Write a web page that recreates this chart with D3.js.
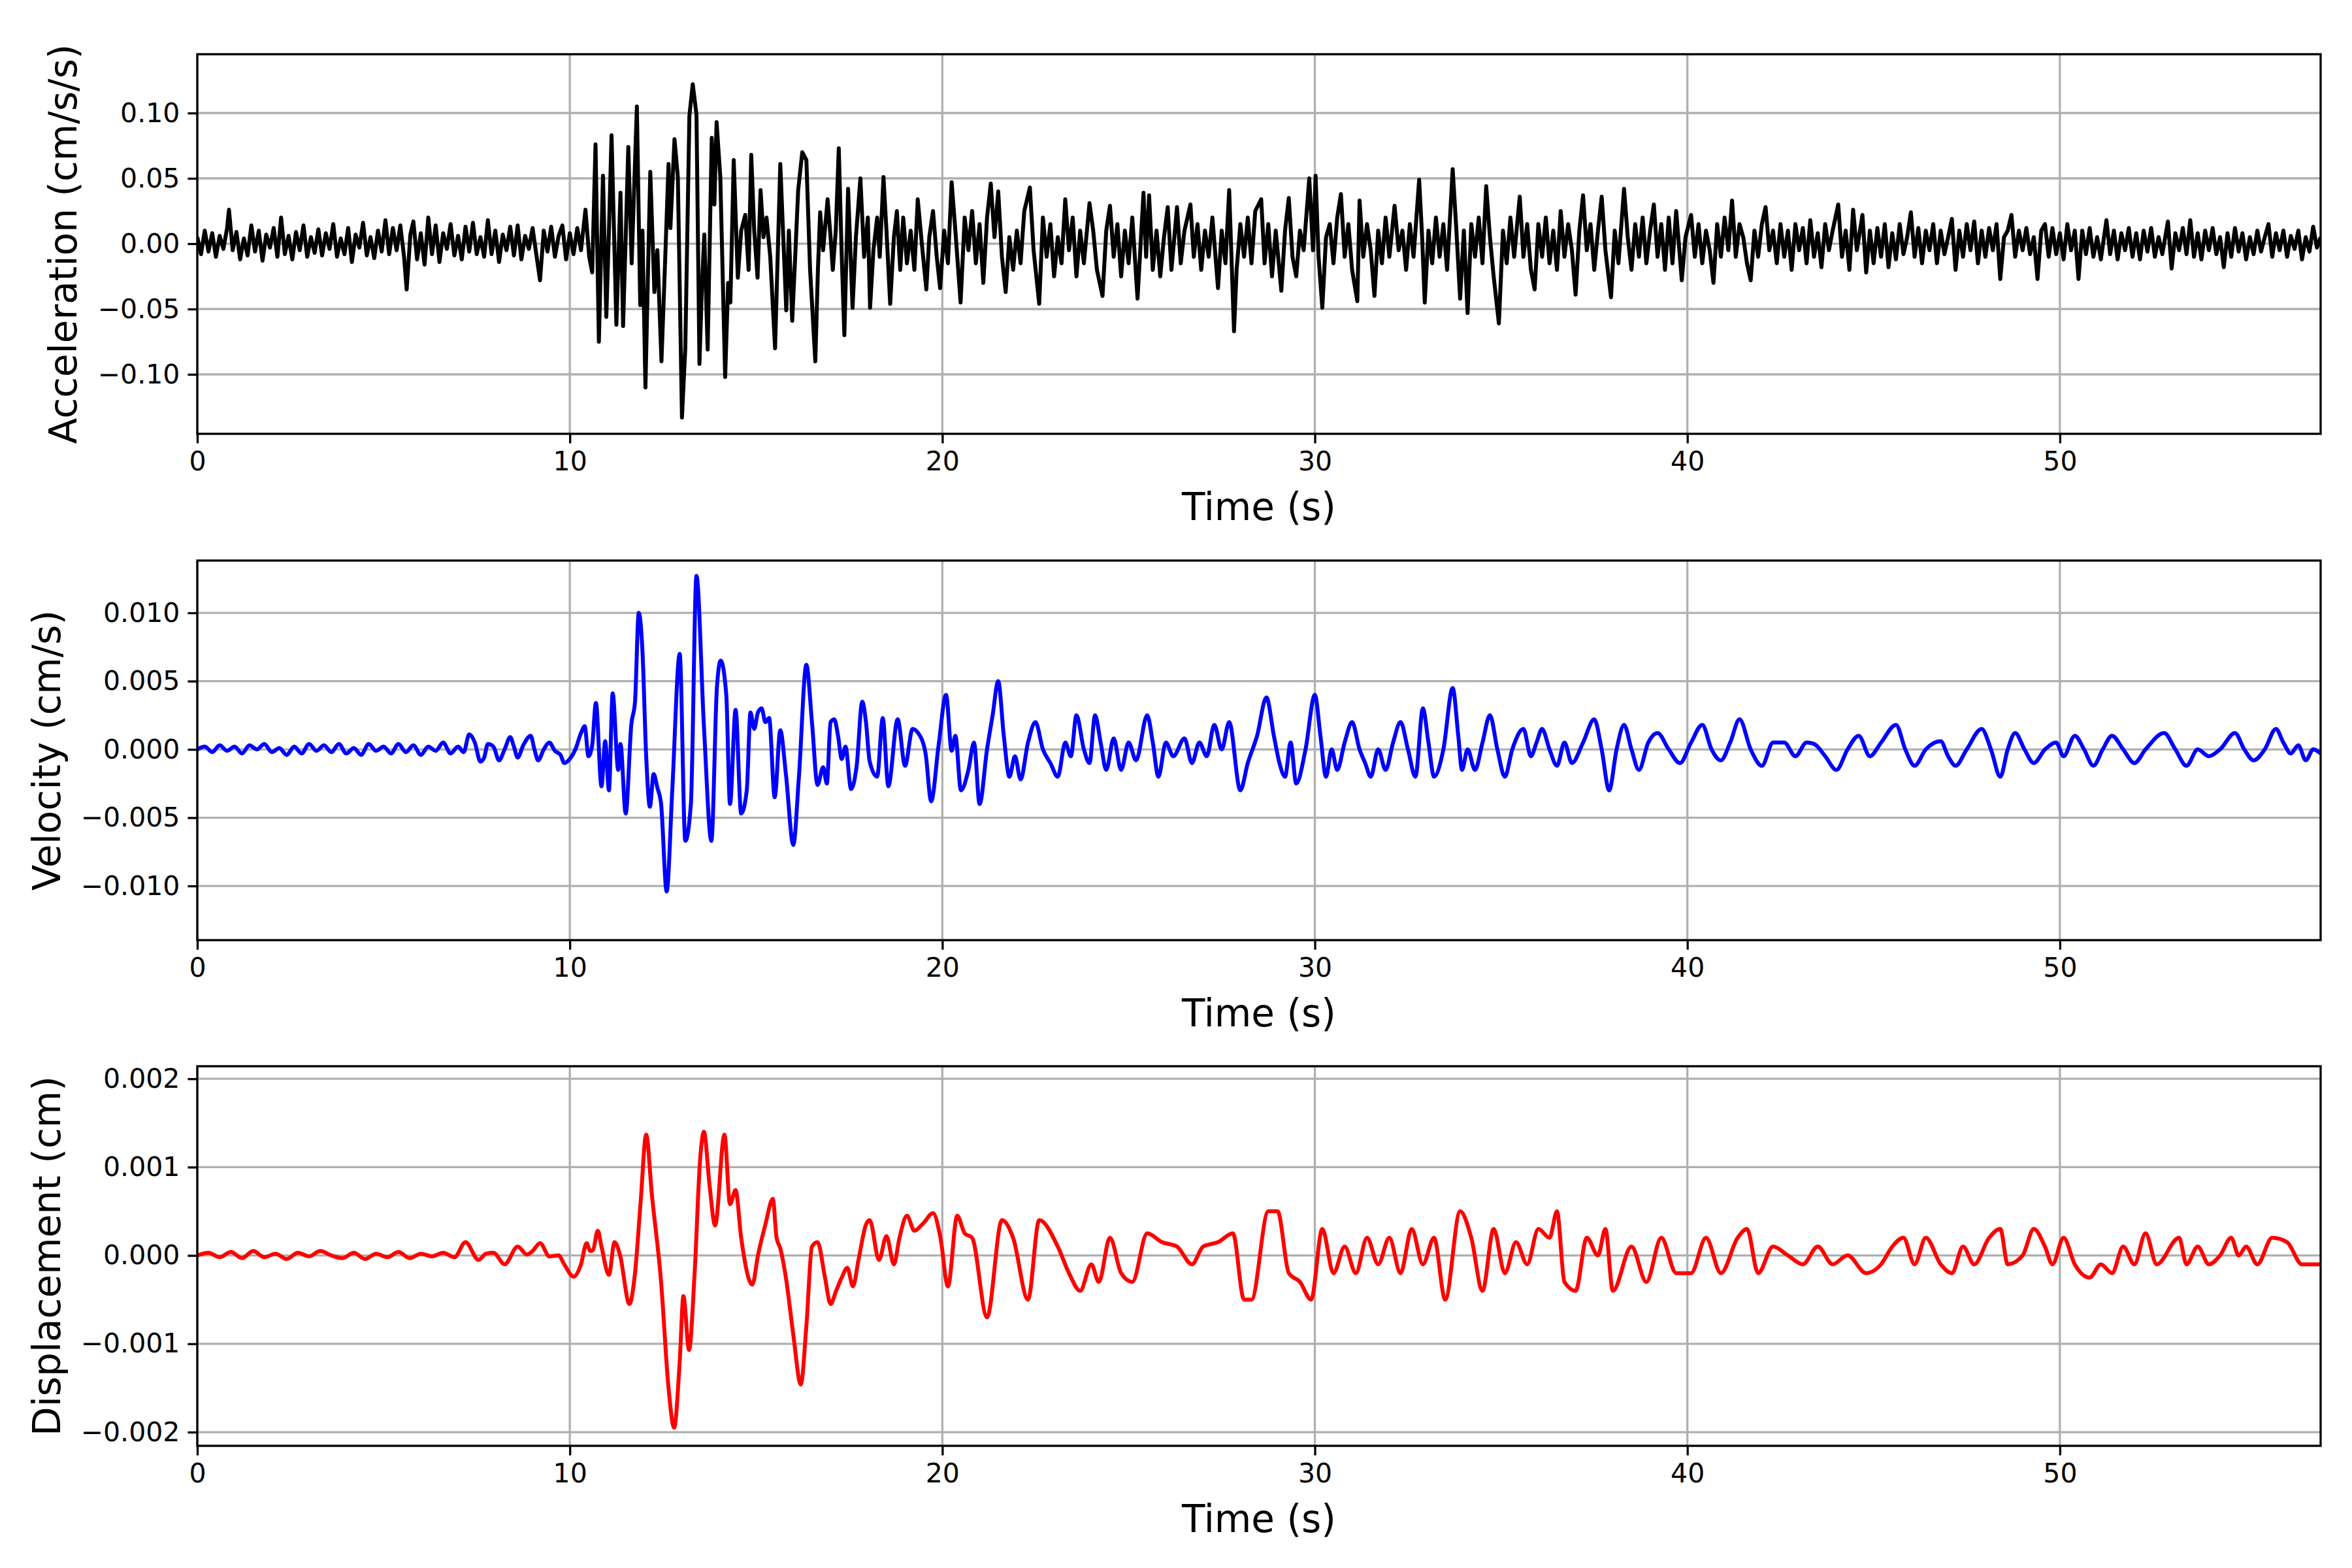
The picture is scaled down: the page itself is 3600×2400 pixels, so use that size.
<!DOCTYPE html>
<html>
<head>
<meta charset="utf-8">
<script src="https://cdn.jsdelivr.net/npm/d3@7"></script>
<style>
  body { margin: 0; background: #fff; }
  svg { font-family: "DejaVu Sans", sans-serif; }
</style>
</head>
<body>
<svg id="chart" width="3600" height="2400"></svg>
<script>
// time axis shared by all panels
var timeTicks = [0, 10, 20, 30, 40, 50];

// acceleration, values in 1e-3 cm/s/s, [time, value]
var accPoints = [[0,5],[0.1,-8],[0.2,10],[0.3,-6],[0.4,8],[0.5,-10],[0.6,6],[0.7,-4],[0.8,12],[0.85,26],[0.95,-5],[1.05,9],[1.15,-12],[1.25,4],[1.35,-9],[1.45,14],[1.55,-6],[1.65,10],[1.75,-13],[1.85,7],[1.95,-3],[2.05,12],[2.15,-10],[2.25,20],[2.35,-8],[2.45,6],[2.55,-12],[2.65,9],[2.75,-5],[2.85,14],[2.95,-10],[3.05,5],[3.15,-7],[3.25,11],[3.35,-9],[3.45,8],[3.55,-4],[3.65,15],[3.75,-10],[3.85,4],[3.95,-8],[4.05,12],[4.15,-14],[4.25,7],[4.35,-3],[4.45,16],[4.55,-9],[4.65,5],[4.75,-11],[4.85,10],[4.95,-6],[5.05,18],[5.15,-8],[5.25,12],[5.35,-5],[5.45,14],[5.55,-10],[5.62,-35],[5.72,7],[5.8,17],[5.9,-12],[6,8],[6.1,-16],[6.2,20],[6.3,-8],[6.4,14],[6.5,-14],[6.6,8],[6.7,-4],[6.8,15],[6.9,-9],[7,6],[7.1,-12],[7.2,13],[7.3,-6],[7.4,16],[7.5,-8],[7.6,5],[7.7,-10],[7.8,18],[7.9,-8],[8,10],[8.1,-14],[8.2,7],[8.3,-5],[8.4,13],[8.5,-9],[8.6,14],[8.7,-12],[8.8,6],[8.9,-4],[9,12],[9.1,-8],[9.2,-28],[9.3,10],[9.4,-6],[9.5,13],[9.6,-10],[9.7,6],[9.8,14],[9.9,-12],[10,8],[10.1,-8],[10.2,12],[10.3,-5],[10.42,26],[10.52,-10],[10.6,-22],[10.69,76],[10.78,-75],[10.89,52],[10.98,-56],[11.05,10],[11.12,83],[11.25,-62],[11.36,39],[11.43,-63],[11.5,5],[11.57,74],[11.66,-15],[11.8,105],[11.89,-47],[11.95,10],[12.03,-110],[12.1,-20],[12.16,55],[12.27,-37],[12.35,-5],[12.46,-90],[12.55,-20],[12.65,61],[12.7,12],[12.81,80],[12.9,51],[13.01,-133],[13.1,-80],[13.21,98],[13.3,122],[13.4,99],[13.48,-92],[13.55,-30],[13.61,7],[13.7,-81],[13.81,81],[13.88,30],[13.94,93],[14.04,51],[14.17,-102],[14.25,-30],[14.31,-45],[14.4,64],[14.51,-26],[14.6,10],[14.71,22],[14.8,-20],[14.87,68],[14.95,10],[15.04,-26],[15.12,41],[15.2,5],[15.28,20],[15.38,-10],[15.51,-80],[15.65,61],[15.73,5],[15.81,-51],[15.88,10],[15.97,-59],[16.05,-10],[16.13,41],[16.24,70],[16.35,64],[16.45,-20],[16.59,-90],[16.66,-20],[16.72,24],[16.8,-5],[16.92,34],[17,5],[17.06,-20],[17.14,10],[17.22,73],[17.3,-10],[17.37,-70],[17.47,42],[17.59,-49],[17.68,5],[17.8,50],[17.9,-10],[18,20],[18.06,-49],[18.15,-5],[18.25,20],[18.32,-10],[18.42,51],[18.5,10],[18.6,-46],[18.7,5],[18.78,25],[18.87,-20],[18.95,20],[19.05,-15],[19.15,10],[19.25,-20],[19.34,34],[19.45,0],[19.57,-35],[19.65,5],[19.75,25],[19.85,-10],[19.94,-34],[20.05,10],[20.15,-15],[20.25,47],[20.35,10],[20.49,-45],[20.6,20],[20.7,-5],[20.8,25],[20.9,-15],[21,15],[21.1,-30],[21.2,20],[21.3,46],[21.4,5],[21.5,40],[21.6,-10],[21.7,-37],[21.8,5],[21.9,-20],[22,10],[22.1,-15],[22.2,25],[22.35,43],[22.45,-5],[22.6,-46],[22.7,20],[22.8,-10],[22.9,15],[23,-25],[23.1,5],[23.2,-15],[23.3,34],[23.4,-5],[23.5,20],[23.6,-25],[23.7,10],[23.8,-15],[23.95,31],[24.05,10],[24.15,-20],[24.3,-40],[24.4,10],[24.5,29],[24.6,-10],[24.7,15],[24.8,-25],[24.9,10],[25,-15],[25.1,20],[25.24,-42],[25.4,39],[25.47,-10],[25.55,37],[25.65,-20],[25.75,10],[25.85,-25],[25.95,5],[26.05,28],[26.15,-20],[26.3,28],[26.4,-15],[26.5,10],[26.66,30],[26.75,-10],[26.85,15],[26.95,-20],[27.05,10],[27.15,-10],[27.25,20],[27.4,-34],[27.5,10],[27.6,-15],[27.7,41],[27.83,-67],[27.9,-20],[28,15],[28.1,-10],[28.2,20],[28.3,-15],[28.4,25],[28.56,34],[28.65,-15],[28.75,15],[28.85,-25],[28.95,10],[29.1,-36],[29.2,10],[29.3,35],[29.4,-10],[29.5,-25],[29.6,10],[29.7,-5],[29.85,50],[29.95,-5],[30.02,52],[30.1,-10],[30.2,-49],[30.3,5],[30.4,15],[30.5,-15],[30.6,20],[30.7,38],[30.8,-10],[30.9,15],[31,-20],[31.14,-44],[31.2,33],[31.3,-10],[31.4,15],[31.5,-5],[31.6,-40],[31.7,10],[31.8,-15],[31.9,20],[32,-10],[32.14,29],[32.25,-5],[32.35,10],[32.45,-20],[32.55,15],[32.65,-10],[32.8,49],[32.88,5],[32.95,-45],[33.05,10],[33.15,-15],[33.25,20],[33.35,-10],[33.45,15],[33.55,-20],[33.7,57],[33.8,10],[33.9,-42],[34,10],[34.1,-53],[34.2,15],[34.3,-10],[34.4,20],[34.5,-15],[34.6,44],[34.7,5],[34.8,-25],[34.94,-61],[35.05,10],[35.15,-15],[35.25,20],[35.35,-10],[35.5,36],[35.6,-10],[35.7,15],[35.8,-20],[35.9,-35],[36,15],[36.1,-10],[36.2,20],[36.3,-15],[36.4,10],[36.5,-20],[36.6,25],[36.7,-10],[36.8,15],[36.9,-5],[37,-39],[37.1,10],[37.2,37],[37.3,-5],[37.4,15],[37.5,-20],[37.6,10],[37.7,36],[37.8,-5],[37.95,-41],[38.05,10],[38.15,-15],[38.3,42],[38.4,5],[38.5,-20],[38.6,15],[38.7,-10],[38.8,20],[38.9,-15],[39,10],[39.1,30],[39.2,-10],[39.3,15],[39.4,-20],[39.5,20],[39.6,-15],[39.7,25],[39.85,-28],[39.95,5],[40.1,22],[40.2,-10],[40.3,15],[40.4,-15],[40.5,10],[40.6,-5],[40.7,-30],[40.8,15],[40.9,-10],[41,20],[41.1,-5],[41.2,33],[41.3,-10],[41.4,15],[41.5,5],[41.6,-15],[41.7,-28],[41.8,10],[41.9,-10],[42,15],[42.1,28],[42.2,-5],[42.3,10],[42.4,-15],[42.5,15],[42.6,-10],[42.7,10],[42.8,-20],[42.9,15],[43,-5],[43.1,12],[43.2,-15],[43.3,18],[43.4,-10],[43.5,8],[43.6,-18],[43.7,15],[43.8,-5],[43.9,10],[44.05,30],[44.15,-10],[44.25,10],[44.35,-20],[44.45,26],[44.55,-5],[44.7,22],[44.8,-22],[44.9,10],[45,-15],[45.1,12],[45.2,-10],[45.3,15],[45.4,-18],[45.5,8],[45.6,-12],[45.7,15],[45.8,-8],[45.9,5],[46,24],[46.1,-10],[46.2,12],[46.3,-15],[46.4,10],[46.5,-5],[46.6,15],[46.7,-15],[46.8,10],[46.9,-8],[47,5],[47.1,19],[47.2,-20],[47.3,10],[47.4,-10],[47.5,15],[47.6,-5],[47.7,17],[47.8,-15],[47.9,10],[48,-10],[48.1,12],[48.2,-5],[48.3,15],[48.4,-27],[48.5,5],[48.6,10],[48.7,22],[48.8,-10],[48.9,10],[49,-5],[49.1,12],[49.2,-8],[49.3,5],[49.4,-27],[49.5,10],[49.6,15],[49.7,-10],[49.8,12],[49.9,-8],[50,8],[50.1,-12],[50.2,15],[50.3,-5],[50.4,10],[50.5,-27],[50.6,10],[50.7,-8],[50.8,12],[50.9,-10],[51,5],[51.1,-12],[51.25,18],[51.35,-8],[51.45,10],[51.55,-12],[51.65,8],[51.75,-5],[51.85,12],[51.95,-10],[52.05,8],[52.15,-12],[52.25,10],[52.35,-6],[52.45,12],[52.55,-10],[52.65,5],[52.75,-8],[52.9,17],[53,-19],[53.1,8],[53.2,-5],[53.3,12],[53.4,-8],[53.5,18],[53.6,-10],[53.7,8],[53.8,-12],[53.9,10],[54,-5],[54.1,12],[54.2,-8],[54.3,5],[54.4,-18],[54.5,8],[54.6,-10],[54.7,12],[54.8,-6],[54.9,8],[55,-12],[55.1,5],[55.2,-8],[55.3,10],[55.4,-6],[55.5,5],[55.6,15],[55.7,-10],[55.8,8],[55.9,-5],[56,10],[56.1,-10],[56.2,6],[56.3,-4],[56.4,10],[56.5,-12],[56.6,5],[56.7,-6],[56.8,13],[56.9,-3],[57,5]];

// velocity, values in 1e-4 cm/s
var velPoints = [[0,0],[0.2,2],[0.4,-2],[0.6,3],[0.8,-1],[1,2],[1.2,-3],[1.4,3],[1.6,0],[1.8,4],[2,-2],[2.2,1],[2.4,-4],[2.6,2],[2.8,-3],[3,4],[3.2,-1],[3.4,3],[3.6,-2],[3.8,4],[4,-3],[4.2,1],[4.4,-4],[4.6,4],[4.8,-1],[5,2],[5.2,-3],[5.4,4],[5.6,-2],[5.8,3],[6,-4],[6.2,2],[6.4,-1],[6.6,5],[6.8,-3],[7,2],[7.15,-2],[7.3,11],[7.45,5],[7.6,-9],[7.7,-6],[7.8,4],[7.95,2],[8.1,-8],[8.25,0],[8.4,9],[8.5,2],[8.6,-6],[8.75,3],[8.95,10],[9.05,0],[9.15,-8],[9.3,0],[9.45,5],[9.6,-1],[9.75,-4],[9.85,-10],[10,-7],[10.15,0],[10.3,12],[10.4,17],[10.5,-5],[10.6,3],[10.7,34],[10.85,-27],[10.95,6],[11.05,-30],[11.15,41],[11.3,-15],[11.36,4],[11.5,-47],[11.65,18],[11.75,35],[11.85,100],[11.95,72],[12.05,-5],[12.15,-42],[12.25,-18],[12.35,-28],[12.45,-40],[12.6,-104],[12.75,-30],[12.95,70],[13.1,-67],[13.25,-40],[13.4,127],[13.6,17],[13.8,-67],[13.95,46],[14.05,65],[14.2,40],[14.3,-40],[14.45,29],[14.6,-47],[14.75,-30],[14.85,27],[14.95,15],[15.05,27],[15.15,30],[15.25,20],[15.35,23],[15.5,-35],[15.65,14],[15.8,-18],[16,-70],[16.15,-20],[16.35,62],[16.5,20],[16.65,-26],[16.8,-13],[16.9,-25],[17,20],[17.1,22],[17.2,10],[17.3,-7],[17.4,2],[17.55,-29],[17.7,-12],[17.85,35],[17.95,20],[18.05,-9],[18.25,-20],[18.4,23],[18.55,-27],[18.8,22],[19,-12],[19.2,15],[19.35,12],[19.55,-3],[19.7,-38],[19.9,3],[20.1,40],[20.25,-1],[20.35,10],[20.5,-30],[20.7,-15],[20.85,5],[21,-40],[21.2,0],[21.35,25],[21.5,50],[21.65,10],[21.8,-20],[21.95,-5],[22.1,-22],[22.3,5],[22.5,20],[22.7,0],[22.9,-10],[23.1,-20],[23.3,5],[23.45,-5],[23.6,25],[23.8,0],[23.95,-10],[24.1,25],[24.25,5],[24.4,-15],[24.6,8],[24.8,-15],[25,5],[25.2,-8],[25.5,25],[25.65,5],[25.8,-20],[26,5],[26.2,-5],[26.5,8],[26.7,-10],[26.9,5],[27.1,-5],[27.3,18],[27.5,0],[27.7,20],[28,-30],[28.2,-10],[28.45,10],[28.7,38],[28.9,10],[29.05,-10],[29.2,-20],[29.35,5],[29.5,-25],[29.75,0],[30,40],[30.15,10],[30.3,-20],[30.45,0],[30.6,-15],[30.8,5],[31,20],[31.2,0],[31.35,-10],[31.5,-20],[31.7,0],[31.9,-15],[32.1,5],[32.3,20],[32.5,0],[32.7,-20],[32.9,30],[33.05,5],[33.2,-20],[33.45,0],[33.7,45],[33.85,10],[33.95,-15],[34.1,0],[34.3,-15],[34.5,5],[34.7,25],[34.9,0],[35.1,-20],[35.3,0],[35.6,15],[35.8,-5],[35.95,5],[36.1,15],[36.3,0],[36.5,-12],[36.7,5],[36.9,-10],[37.2,5],[37.5,22],[37.7,0],[37.9,-30],[38.1,0],[38.3,18],[38.5,0],[38.7,-15],[38.95,5],[39.2,12],[39.5,0],[39.8,-10],[40.1,5],[40.4,18],[40.65,0],[40.9,-8],[41.15,5],[41.4,22],[41.7,0],[42,-12],[42.3,5],[42.6,5],[42.9,-5],[43.2,5],[43.4,4],[43.7,-5],[44,-15],[44.3,0],[44.6,10],[44.9,-5],[45.2,5],[45.6,18],[45.85,0],[46.1,-12],[46.4,0],[46.8,6],[47,-5],[47.2,-12],[47.5,0],[47.9,15],[48.15,0],[48.4,-20],[48.6,0],[48.8,12],[49.05,0],[49.3,-10],[49.6,0],[49.9,5],[50.1,-5],[50.4,10],[50.65,0],[50.9,-12],[51.15,0],[51.4,10],[51.7,0],[52,-10],[52.3,0],[52.8,12],[53.1,0],[53.4,-12],[53.7,0],[54,-5],[54.3,0],[54.7,12],[54.95,0],[55.2,-8],[55.5,0],[55.8,15],[56,5],[56.2,-3],[56.4,3],[56.6,-8],[56.8,0],[57,-3]];

// displacement, values in 1e-5 cm
var dispPoints = [[0,0],[0.3,3],[0.6,-2],[0.9,4],[1.2,-3],[1.5,5],[1.8,-2],[2.1,2],[2.4,-4],[2.7,3],[3,-1],[3.3,5],[3.6,0],[3.9,-3],[4.2,3],[4.5,-4],[4.8,2],[5.1,-2],[5.4,4],[5.7,-3],[6,2],[6.3,-1],[6.6,3],[6.9,-2],[7.2,15],[7.55,-5],[7.75,2],[7.95,3],[8.25,-10],[8.6,10],[8.85,1],[9,5],[9.2,14],[9.45,-1],[9.7,0],[9.85,-10],[10.1,-24],[10.3,-10],[10.45,14],[10.55,5],[10.62,6],[10.75,28],[10.85,10],[11.05,-22],[11.2,15],[11.35,0],[11.6,-55],[11.75,-20],[11.9,60],[12.05,137],[12.2,70],[12.45,-30],[12.65,-150],[12.8,-195],[12.95,-120],[13.05,-46],[13.2,-107],[13.35,-20],[13.5,110],[13.6,140],[13.75,80],[13.9,34],[14.15,137],[14.3,58],[14.45,74],[14.6,20],[14.9,-33],[15.05,0],[15.25,35],[15.45,64],[15.55,20],[15.65,8],[15.8,-25],[16,-90],[16.2,-146],[16.35,-80],[16.5,10],[16.65,15],[16.85,-25],[17,-55],[17.15,-40],[17.3,-25],[17.45,-14],[17.6,-35],[17.75,-5],[17.95,35],[18.05,40],[18.3,-5],[18.5,22],[18.7,-10],[18.85,20],[19.05,45],[19.25,28],[19.5,37],[19.75,48],[19.95,20],[20.15,-35],[20.4,45],[20.6,25],[20.8,20],[21.2,-70],[21.6,40],[21.9,20],[22.3,-50],[22.6,40],[23.1,10],[23.4,-20],[23.7,-40],[24,-10],[24.2,-30],[24.5,20],[24.8,-20],[25.1,-30],[25.5,25],[25.9,15],[26.3,10],[26.7,-10],[27,10],[27.4,15],[27.8,25],[28.1,-50],[28.3,-50],[28.75,50],[29,50],[29.3,-20],[29.6,-30],[29.9,-50],[30.2,30],[30.5,-20],[30.8,10],[31.1,-20],[31.4,20],[31.7,-10],[32,20],[32.3,-20],[32.6,30],[32.9,-10],[33.2,20],[33.5,-50],[33.9,50],[34.2,20],[34.5,-40],[34.8,30],[35.1,-20],[35.4,15],[35.7,-10],[36,30],[36.3,20],[36.5,50],[36.7,-30],[37,-40],[37.3,20],[37.6,0],[37.8,30],[38,-40],[38.5,10],[38.9,-30],[39.3,20],[39.7,-20],[40.1,-20],[40.5,20],[40.9,-20],[41.35,20],[41.6,30],[41.9,-20],[42.3,10],[42.7,0],[43.1,-10],[43.5,10],[43.9,-10],[44.3,0],[44.8,-20],[45.2,-10],[45.5,10],[45.8,20],[46.1,-10],[46.4,20],[46.8,-10],[47.1,-20],[47.4,10],[47.7,-10],[48.1,20],[48.4,30],[48.6,-10],[49,0],[49.3,30],[49.6,10],[49.8,-10],[50.1,20],[50.4,-10],[50.8,-25],[51.1,-10],[51.4,-20],[51.7,10],[52,-10],[52.3,25],[52.6,-10],[53.2,20],[53.4,-10],[53.7,10],[54,-10],[54.3,0],[54.6,20],[54.8,0],[55,10],[55.3,-10],[55.7,20],[56.1,15],[56.5,-10],[57,-10]];

var accTicks = [-0.10, -0.05, 0, 0.05, 0.10];
var velTicks = [-0.010, -0.005, 0, 0.005, 0.010];
var dispTicks = [-0.002, -0.001, 0, 0.001, 0.002];

var svg = d3.select("#chart");
var left = 302, right = 3552;
var lw = 3.3;

var xScale = d3.scaleLinear().domain([0, 57]).range([left, right]);

function drawPanel(points, unit, top, bottom, domain, ticks, fmt, color, curve, label, labelX) {
    var yScale = d3.scaleLinear().domain(domain).range([bottom, top]);
    var g = svg.append("g");

    // grid
    g.selectAll(".gx").data(timeTicks).enter().append("line")
        .attr("x1", xScale).attr("x2", xScale)
        .attr("y1", top).attr("y2", bottom)
        .attr("stroke", "#b0b0b0").attr("stroke-width", lw);
    g.selectAll(".gy").data(ticks).enter().append("line")
        .attr("x1", left).attr("x2", right)
        .attr("y1", yScale).attr("y2", yScale)
        .attr("stroke", "#b0b0b0").attr("stroke-width", lw);

    g.append("defs").append("clipPath").attr("id", "clip" + top)
        .append("rect").attr("x", left).attr("y", top)
        .attr("width", right - left).attr("height", bottom - top);

    var line = d3.line()
        .x(function (d) { return xScale(d[0]); })
        .y(function (d) { return yScale(d[1] * unit); })
        .curve(curve);
    g.append("path")
        .datum(points)
        .attr("clip-path", "url(#clip" + top + ")")
        .attr("d", line)
        .attr("fill", "none")
        .attr("stroke", color)
        .attr("stroke-width", 6)
        .attr("stroke-linejoin", "round");

    var xAxis = g.append("g")
        .attr("transform", "translate(0," + bottom + ")")
        .call(d3.axisBottom(xScale).tickValues(timeTicks).tickSize(14.6).tickPadding(12).tickFormat(d3.format("d")));
    var yAxis = g.append("g")
        .attr("transform", "translate(" + left + ",0)")
        .call(d3.axisLeft(yScale).tickValues(ticks).tickSize(14.6).tickPadding(12).tickFormat(d3.format(fmt)));
    [xAxis, yAxis].forEach(function (a) {
        a.select(".domain").remove();
        a.selectAll("line").attr("stroke", "#000").attr("stroke-width", lw);
        a.selectAll("text").attr("font-size", 41).attr("font-family", "DejaVu Sans").attr("fill", "#000");
    });

    g.append("rect")
        .attr("x", left).attr("y", top)
        .attr("width", right - left).attr("height", bottom - top)
        .attr("fill", "none").attr("stroke", "#000").attr("stroke-width", lw);

    g.append("text")
        .attr("x", (left + right) / 2).attr("y", bottom + 132)
        .attr("text-anchor", "middle").attr("font-size", 58)
        .text("Time (s)");
    g.append("text")
        .attr("transform", "translate(" + labelX + "," + ((top + bottom) / 2) + ") rotate(-90)")
        .attr("dy", "0.35em")
        .attr("text-anchor", "middle").attr("font-size", 58)
        .text(label);
}

drawPanel(accPoints, 1e-3, 83, 664, [-0.1455, 0.145], accTicks, ".2f", "#000", d3.curveLinear, "Acceleration (cm/s/s)", 97);
drawPanel(velPoints, 1e-4, 858, 1439, [-0.01397, 0.01383], velTicks, ".3f", "#0000ff", d3.curveMonotoneX, "Velocity (cm/s)", 72);
drawPanel(dispPoints, 1e-5, 1632, 2213, [-0.002155, 0.002142], dispTicks, ".3f", "#ff0000", d3.curveMonotoneX, "Displacement (cm)", 72);
</script>
</body>
</html>
